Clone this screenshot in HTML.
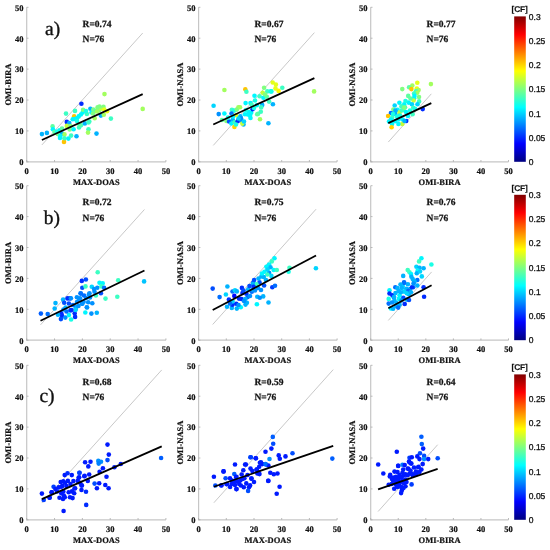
<!DOCTYPE html><html><head><meta charset="utf-8"><style>html,body{margin:0;padding:0;background:#fff;width:550px;height:550px;overflow:hidden}svg{display:block;will-change:transform}text{text-rendering:geometricPrecision}.tk{font:bold 8.5px "Liberation Serif",serif;fill:#111;stroke:#111;stroke-width:.2px}.lb{font:bold 8.5px "Liberation Serif",serif;fill:#111;stroke:#111;stroke-width:.2px}.rn{font:bold 9.5px "Liberation Serif",serif;fill:#111;stroke:#111;stroke-width:.25px}.let{font:19.5px "Liberation Serif",serif;fill:#111;stroke:#111;stroke-width:.35px}.cb{font:8.5px "Liberation Sans",sans-serif;fill:#111;stroke:#111;stroke-width:.3px}.cf{font:bold 8.4px "Liberation Sans",sans-serif;fill:#111;stroke:#111;stroke-width:.15px}</style></head><body>
<svg width="550" height="550" viewBox="0 0 550 550">
<defs><linearGradient id="jet" x1="0" y1="1" x2="0" y2="0">
<stop offset="0.000" stop-color="#000080"/>
<stop offset="0.125" stop-color="#0000ff"/>
<stop offset="0.375" stop-color="#00ffff"/>
<stop offset="0.625" stop-color="#ffff00"/>
<stop offset="0.875" stop-color="#ff0000"/>
<stop offset="1.000" stop-color="#800000"/>
</linearGradient></defs>
<path d="M26.70 7.30 V161.80 H165.90" fill="none" stroke="#c6c6c6" stroke-width="1.2"/>
<path d="M26.70 161.80 h1.8 M26.70 161.80 v-1.8 M26.70 130.90 h1.8 M54.54 161.80 v-1.8 M26.70 100.00 h1.8 M82.38 161.80 v-1.8 M26.70 69.10 h1.8 M110.22 161.80 v-1.8 M26.70 38.20 h1.8 M138.06 161.80 v-1.8 M26.70 7.30 h1.8 M165.90 161.80 v-1.8" stroke="#aaa" stroke-width="0.8"/>
<text class="tk" x="23.50" y="165.10" text-anchor="end">0</text>
<text class="tk" x="26.70" y="174.00" text-anchor="middle">0</text>
<text class="tk" x="23.50" y="134.20" text-anchor="end">10</text>
<text class="tk" x="54.54" y="174.00" text-anchor="middle">10</text>
<text class="tk" x="23.50" y="103.30" text-anchor="end">20</text>
<text class="tk" x="82.38" y="174.00" text-anchor="middle">20</text>
<text class="tk" x="23.50" y="72.40" text-anchor="end">30</text>
<text class="tk" x="110.22" y="174.00" text-anchor="middle">30</text>
<text class="tk" x="23.50" y="41.50" text-anchor="end">40</text>
<text class="tk" x="138.06" y="174.00" text-anchor="middle">40</text>
<text class="tk" x="23.50" y="10.60" text-anchor="end">50</text>
<text class="tk" x="165.90" y="174.00" text-anchor="middle">50</text>
<text class="lb" x="96.30" y="184.70" text-anchor="middle">MAX-DOAS</text>
<text class="lb" transform="translate(10.90 84.55) rotate(-90)" text-anchor="middle">OMI-BIRA</text>
<text class="rn" x="82.60" y="26.70">R=0.74</text>
<text class="rn" x="82.60" y="42.30">N=76</text>
<line x1="41.90" y1="144.93" x2="142.71" y2="33.04" stroke="#c2c2c2" stroke-width="0.9"/>
<circle cx="41.9" cy="134.1" r="2.3" fill="#00b3ff"/>
<circle cx="46.9" cy="132.9" r="2.3" fill="#00b3ff"/>
<circle cx="52.6" cy="126.4" r="2.3" fill="#5effa1"/>
<circle cx="52.9" cy="129.3" r="2.3" fill="#00f7ff"/>
<circle cx="54.5" cy="132.1" r="2.3" fill="#5effa1"/>
<circle cx="57.8" cy="134.1" r="2.3" fill="#80ff80"/>
<circle cx="59.6" cy="130.4" r="2.3" fill="#00f7ff"/>
<circle cx="60.0" cy="138.0" r="2.3" fill="#00f7ff"/>
<circle cx="62.2" cy="133.5" r="2.3" fill="#00b3ff"/>
<circle cx="64.0" cy="141.9" r="2.3" fill="#ffc300"/>
<circle cx="64.5" cy="134.4" r="2.3" fill="#a2ff5e"/>
<circle cx="64.4" cy="138.3" r="2.3" fill="#3cffc3"/>
<circle cx="60.3" cy="136.0" r="2.3" fill="#00f7ff"/>
<circle cx="66.0" cy="113.6" r="2.3" fill="#3cffc3"/>
<circle cx="66.8" cy="121.9" r="2.3" fill="#002bff"/>
<circle cx="69.3" cy="123.1" r="2.3" fill="#00b3ff"/>
<circle cx="66.8" cy="125.9" r="2.3" fill="#c4ff3b"/>
<circle cx="69.7" cy="129.4" r="2.3" fill="#80ff80"/>
<circle cx="68.4" cy="138.6" r="2.3" fill="#00f7ff"/>
<circle cx="71.1" cy="135.6" r="2.3" fill="#3cffc3"/>
<circle cx="73.6" cy="129.2" r="2.3" fill="#00f7ff"/>
<circle cx="74.1" cy="116.4" r="2.3" fill="#ffc300"/>
<circle cx="75.0" cy="110.9" r="2.3" fill="#3cffc3"/>
<circle cx="76.5" cy="136.2" r="2.3" fill="#00b3ff"/>
<circle cx="72.7" cy="119.3" r="2.3" fill="#00f7ff"/>
<circle cx="75.0" cy="119.0" r="2.3" fill="#00f7ff"/>
<circle cx="76.9" cy="118.3" r="2.3" fill="#00f7ff"/>
<circle cx="78.7" cy="116.4" r="2.3" fill="#00f7ff"/>
<circle cx="80.9" cy="114.5" r="2.3" fill="#00f7ff"/>
<circle cx="82.7" cy="112.4" r="2.3" fill="#00f7ff"/>
<circle cx="81.4" cy="103.7" r="2.3" fill="#002bff"/>
<circle cx="83.1" cy="109.8" r="2.3" fill="#80ff80"/>
<circle cx="79.1" cy="127.4" r="2.3" fill="#3cffc3"/>
<circle cx="81.0" cy="125.2" r="2.3" fill="#3cffc3"/>
<circle cx="84.9" cy="123.4" r="2.3" fill="#00b3ff"/>
<circle cx="79.6" cy="124.5" r="2.3" fill="#5effa1"/>
<circle cx="86.9" cy="114.0" r="2.3" fill="#3cffc3"/>
<circle cx="90.4" cy="108.7" r="2.3" fill="#00b3ff"/>
<circle cx="91.5" cy="112.5" r="2.3" fill="#00f7ff"/>
<circle cx="93.3" cy="109.5" r="2.3" fill="#80ff80"/>
<circle cx="95.5" cy="110.9" r="2.3" fill="#5effa1"/>
<circle cx="97.6" cy="107.3" r="2.3" fill="#80ff80"/>
<circle cx="99.1" cy="110.2" r="2.3" fill="#80ff80"/>
<circle cx="101.3" cy="108.4" r="2.3" fill="#c4ff3b"/>
<circle cx="103.5" cy="106.9" r="2.3" fill="#80ff80"/>
<circle cx="104.2" cy="109.5" r="2.3" fill="#e5ff1a"/>
<circle cx="107.1" cy="111.3" r="2.3" fill="#e5ff1a"/>
<circle cx="100.9" cy="115.6" r="2.3" fill="#00b3ff"/>
<circle cx="103.8" cy="114.8" r="2.3" fill="#a2ff5e"/>
<circle cx="94.7" cy="118.2" r="2.3" fill="#a2ff5e"/>
<circle cx="89.3" cy="121.5" r="2.3" fill="#3cffc3"/>
<circle cx="88.5" cy="129.2" r="2.3" fill="#3cffc3"/>
<circle cx="88.0" cy="132.6" r="2.3" fill="#a2ff5e"/>
<circle cx="96.5" cy="133.6" r="2.3" fill="#00b3ff"/>
<circle cx="110.9" cy="118.6" r="2.3" fill="#3cffc3"/>
<circle cx="104.5" cy="94.1" r="2.3" fill="#a2ff5e"/>
<circle cx="142.7" cy="108.9" r="2.3" fill="#a2ff5e"/>
<circle cx="88.5" cy="122.5" r="2.3" fill="#3cffc3"/>
<circle cx="93.0" cy="113.5" r="2.3" fill="#80ff80"/>
<circle cx="97.0" cy="111.5" r="2.3" fill="#a2ff5e"/>
<circle cx="86.0" cy="111.0" r="2.3" fill="#1affe5"/>
<circle cx="99.5" cy="106.5" r="2.3" fill="#80ff80"/>
<circle cx="57.0" cy="131.5" r="2.3" fill="#1affe5"/>
<circle cx="62.0" cy="128.5" r="2.3" fill="#5effa1"/>
<circle cx="70.5" cy="126.0" r="2.3" fill="#80ff80"/>
<circle cx="77.0" cy="121.0" r="2.3" fill="#1affe5"/>
<line x1="41.90" y1="140.02" x2="142.71" y2="94.13" stroke="#000" stroke-width="1.8"/>
<path d="M198.60 7.30 V161.80 H337.10" fill="none" stroke="#c6c6c6" stroke-width="1.2"/>
<path d="M198.60 161.80 h1.8 M198.60 161.80 v-1.8 M198.60 130.90 h1.8 M226.30 161.80 v-1.8 M198.60 100.00 h1.8 M254.00 161.80 v-1.8 M198.60 69.10 h1.8 M281.70 161.80 v-1.8 M198.60 38.20 h1.8 M309.40 161.80 v-1.8 M198.60 7.30 h1.8 M337.10 161.80 v-1.8" stroke="#aaa" stroke-width="0.8"/>
<text class="tk" x="195.40" y="165.10" text-anchor="end">0</text>
<text class="tk" x="198.60" y="174.00" text-anchor="middle">0</text>
<text class="tk" x="195.40" y="134.20" text-anchor="end">10</text>
<text class="tk" x="226.30" y="174.00" text-anchor="middle">10</text>
<text class="tk" x="195.40" y="103.30" text-anchor="end">20</text>
<text class="tk" x="254.00" y="174.00" text-anchor="middle">20</text>
<text class="tk" x="195.40" y="72.40" text-anchor="end">30</text>
<text class="tk" x="281.70" y="174.00" text-anchor="middle">30</text>
<text class="tk" x="195.40" y="41.50" text-anchor="end">40</text>
<text class="tk" x="309.40" y="174.00" text-anchor="middle">40</text>
<text class="tk" x="195.40" y="10.60" text-anchor="end">50</text>
<text class="tk" x="337.10" y="174.00" text-anchor="middle">50</text>
<text class="lb" x="267.85" y="184.70" text-anchor="middle">MAX-DOAS</text>
<text class="lb" transform="translate(182.80 84.55) rotate(-90)" text-anchor="middle">OMI-NASA</text>
<text class="rn" x="254.50" y="26.70">R=0.67</text>
<text class="rn" x="254.50" y="42.30">N=76</text>
<line x1="213.28" y1="145.42" x2="314.39" y2="32.64" stroke="#c2c2c2" stroke-width="0.9"/>
<circle cx="213.6" cy="105.8" r="2.3" fill="#00d5ff"/>
<circle cx="218.7" cy="114.1" r="2.3" fill="#0091ff"/>
<circle cx="224.4" cy="113.5" r="2.3" fill="#00f7ff"/>
<circle cx="224.4" cy="90.0" r="2.3" fill="#a2ff5e"/>
<circle cx="231.9" cy="109.7" r="2.3" fill="#3cffc3"/>
<circle cx="234.3" cy="110.6" r="2.3" fill="#1affe5"/>
<circle cx="238.4" cy="107.3" r="2.3" fill="#a2ff5e"/>
<circle cx="236.8" cy="109.6" r="2.3" fill="#80ff80"/>
<circle cx="231.5" cy="113.5" r="2.3" fill="#006fff"/>
<circle cx="236.1" cy="115.2" r="2.3" fill="#e5ff1a"/>
<circle cx="240.4" cy="116.4" r="2.3" fill="#00b3ff"/>
<circle cx="226.4" cy="121.0" r="2.3" fill="#80ff80"/>
<circle cx="229.1" cy="121.5" r="2.3" fill="#004dff"/>
<circle cx="232.7" cy="119.8" r="2.3" fill="#00b3ff"/>
<circle cx="231.3" cy="123.5" r="2.3" fill="#00f7ff"/>
<circle cx="234.6" cy="122.3" r="2.3" fill="#3cffc3"/>
<circle cx="237.7" cy="121.2" r="2.3" fill="#002bff"/>
<circle cx="241.4" cy="120.6" r="2.3" fill="#0091ff"/>
<circle cx="243.5" cy="124.5" r="2.3" fill="#00b3ff"/>
<circle cx="242.3" cy="123.6" r="2.3" fill="#c4ff3b"/>
<circle cx="234.4" cy="126.9" r="2.3" fill="#ffd400"/>
<circle cx="244.9" cy="114.3" r="2.3" fill="#00f7ff"/>
<circle cx="247.8" cy="114.4" r="2.3" fill="#00f7ff"/>
<circle cx="250.0" cy="115.4" r="2.3" fill="#00f7ff"/>
<circle cx="251.2" cy="112.7" r="2.3" fill="#00f7ff"/>
<circle cx="252.6" cy="109.2" r="2.3" fill="#002bff"/>
<circle cx="245.3" cy="89.2" r="2.3" fill="#ffc300"/>
<circle cx="246.4" cy="91.8" r="2.3" fill="#3cffc3"/>
<circle cx="254.5" cy="95.8" r="2.3" fill="#00f7ff"/>
<circle cx="245.6" cy="103.1" r="2.3" fill="#00f7ff"/>
<circle cx="250.5" cy="103.0" r="2.3" fill="#00f7ff"/>
<circle cx="251.7" cy="104.8" r="2.3" fill="#3cffc3"/>
<circle cx="240.0" cy="107.3" r="2.3" fill="#a2ff5e"/>
<circle cx="241.0" cy="118.2" r="2.3" fill="#0091ff"/>
<circle cx="256.8" cy="105.3" r="2.3" fill="#00f7ff"/>
<circle cx="262.2" cy="104.9" r="2.3" fill="#00b3ff"/>
<circle cx="261.2" cy="107.4" r="2.3" fill="#3cffc3"/>
<circle cx="260.8" cy="111.7" r="2.3" fill="#3cffc3"/>
<circle cx="258.1" cy="113.8" r="2.3" fill="#3cffc3"/>
<circle cx="260.0" cy="119.2" r="2.3" fill="#a2ff5e"/>
<circle cx="268.4" cy="123.3" r="2.3" fill="#00b3ff"/>
<circle cx="264.1" cy="87.7" r="2.3" fill="#80ff80"/>
<circle cx="262.7" cy="92.7" r="2.3" fill="#c4ff3b"/>
<circle cx="259.6" cy="96.3" r="2.3" fill="#3cffc3"/>
<circle cx="263.4" cy="97.8" r="2.3" fill="#00f7ff"/>
<circle cx="266.8" cy="96.8" r="2.3" fill="#5effa1"/>
<circle cx="267.3" cy="91.4" r="2.3" fill="#3cffc3"/>
<circle cx="270.9" cy="91.4" r="2.3" fill="#00f7ff"/>
<circle cx="269.1" cy="101.6" r="2.3" fill="#3cffc3"/>
<circle cx="272.9" cy="104.3" r="2.3" fill="#00b3ff"/>
<circle cx="272.7" cy="82.5" r="2.3" fill="#e5ff1a"/>
<circle cx="275.9" cy="84.5" r="2.3" fill="#e5ff1a"/>
<circle cx="275.5" cy="88.4" r="2.3" fill="#e5ff1a"/>
<circle cx="278.6" cy="90.9" r="2.3" fill="#fff600"/>
<circle cx="282.3" cy="87.7" r="2.3" fill="#3cffc3"/>
<circle cx="271.4" cy="91.4" r="2.3" fill="#1affe5"/>
<circle cx="314.1" cy="91.4" r="2.3" fill="#a2ff5e"/>
<circle cx="257.2" cy="114.2" r="2.3" fill="#5effa1"/>
<circle cx="249.0" cy="112.0" r="2.3" fill="#00f7ff"/>
<circle cx="228.0" cy="117.5" r="2.3" fill="#1affe5"/>
<circle cx="233.0" cy="116.5" r="2.3" fill="#00f7ff"/>
<circle cx="238.5" cy="118.5" r="2.3" fill="#00d5ff"/>
<circle cx="246.0" cy="110.0" r="2.3" fill="#1affe5"/>
<circle cx="255.0" cy="100.5" r="2.3" fill="#1affe5"/>
<circle cx="265.0" cy="94.5" r="2.3" fill="#80ff80"/>
<circle cx="244.0" cy="121.5" r="2.3" fill="#00d5ff"/>
<circle cx="236.0" cy="124.5" r="2.3" fill="#1affe5"/>
<circle cx="222.0" cy="120.0" r="2.3" fill="#5effa1"/>
<circle cx="254.0" cy="108.0" r="2.3" fill="#1affe5"/>
<circle cx="250.5" cy="118.0" r="2.3" fill="#00f7ff"/>
<line x1="213.28" y1="124.50" x2="314.39" y2="78.06" stroke="#000" stroke-width="1.8"/>
<path d="M370.70 7.30 V161.80 H508.50" fill="none" stroke="#c6c6c6" stroke-width="1.2"/>
<path d="M370.70 161.80 h1.8 M370.70 161.80 v-1.8 M370.70 130.90 h1.8 M398.26 161.80 v-1.8 M370.70 100.00 h1.8 M425.82 161.80 v-1.8 M370.70 69.10 h1.8 M453.38 161.80 v-1.8 M370.70 38.20 h1.8 M480.94 161.80 v-1.8 M370.70 7.30 h1.8 M508.50 161.80 v-1.8" stroke="#aaa" stroke-width="0.8"/>
<text class="tk" x="367.50" y="165.10" text-anchor="end">0</text>
<text class="tk" x="370.70" y="174.00" text-anchor="middle">0</text>
<text class="tk" x="367.50" y="134.20" text-anchor="end">10</text>
<text class="tk" x="398.26" y="174.00" text-anchor="middle">10</text>
<text class="tk" x="367.50" y="103.30" text-anchor="end">20</text>
<text class="tk" x="425.82" y="174.00" text-anchor="middle">20</text>
<text class="tk" x="367.50" y="72.40" text-anchor="end">30</text>
<text class="tk" x="453.38" y="174.00" text-anchor="middle">30</text>
<text class="tk" x="367.50" y="41.50" text-anchor="end">40</text>
<text class="tk" x="480.94" y="174.00" text-anchor="middle">40</text>
<text class="tk" x="367.50" y="10.60" text-anchor="end">50</text>
<text class="tk" x="508.50" y="174.00" text-anchor="middle">50</text>
<text class="lb" x="439.60" y="184.70" text-anchor="middle">OMI-BIRA</text>
<text class="lb" transform="translate(354.90 84.55) rotate(-90)" text-anchor="middle">OMI-NASA</text>
<text class="rn" x="426.60" y="26.70">R=0.77</text>
<text class="rn" x="426.60" y="42.30">N=76</text>
<line x1="388.31" y1="142.05" x2="431.33" y2="93.82" stroke="#c2c2c2" stroke-width="0.9"/>
<circle cx="417.3" cy="82.7" r="2.3" fill="#e5ff1a"/>
<circle cx="430.9" cy="84.1" r="2.3" fill="#a2ff5e"/>
<circle cx="412.3" cy="85.5" r="2.3" fill="#a2ff5e"/>
<circle cx="409.1" cy="87.3" r="2.3" fill="#5effa1"/>
<circle cx="411.4" cy="89.1" r="2.3" fill="#ffc300"/>
<circle cx="402.3" cy="89.1" r="2.3" fill="#80ff80"/>
<circle cx="416.8" cy="88.6" r="2.3" fill="#e5ff1a"/>
<circle cx="418.6" cy="90.0" r="2.3" fill="#a2ff5e"/>
<circle cx="415.9" cy="91.4" r="2.3" fill="#3cffc3"/>
<circle cx="417.3" cy="92.7" r="2.3" fill="#a2ff5e"/>
<circle cx="414.1" cy="93.6" r="2.3" fill="#3cffc3"/>
<circle cx="408.2" cy="95.9" r="2.3" fill="#5effa1"/>
<circle cx="414.5" cy="95.9" r="2.3" fill="#00f7ff"/>
<circle cx="414.1" cy="98.2" r="2.3" fill="#00f7ff"/>
<circle cx="413.6" cy="100.5" r="2.3" fill="#c4ff3b"/>
<circle cx="419.1" cy="101.4" r="2.3" fill="#3cffc3"/>
<circle cx="417.5" cy="104.2" r="2.3" fill="#00d5ff"/>
<circle cx="408.7" cy="102.6" r="2.3" fill="#00f7ff"/>
<circle cx="411.9" cy="104.3" r="2.3" fill="#00d5ff"/>
<circle cx="399.4" cy="102.8" r="2.3" fill="#00f7ff"/>
<circle cx="404.2" cy="104.4" r="2.3" fill="#00f7ff"/>
<circle cx="394.7" cy="105.5" r="2.3" fill="#00d5ff"/>
<circle cx="401.4" cy="106.4" r="2.3" fill="#3cffc3"/>
<circle cx="405.0" cy="107.3" r="2.3" fill="#3cffc3"/>
<circle cx="413.2" cy="107.7" r="2.3" fill="#3cffc3"/>
<circle cx="422.7" cy="109.1" r="2.3" fill="#002bff"/>
<circle cx="393.4" cy="109.6" r="2.3" fill="#80ff80"/>
<circle cx="397.6" cy="109.8" r="2.3" fill="#00f7ff"/>
<circle cx="403.5" cy="110.0" r="2.3" fill="#80ff80"/>
<circle cx="390.9" cy="113.0" r="2.3" fill="#006fff"/>
<circle cx="395.4" cy="113.9" r="2.3" fill="#00b3ff"/>
<circle cx="399.6" cy="112.4" r="2.3" fill="#c4ff3b"/>
<circle cx="401.9" cy="110.5" r="2.3" fill="#3cffc3"/>
<circle cx="388.1" cy="116.0" r="2.3" fill="#ffc300"/>
<circle cx="392.2" cy="117.4" r="2.3" fill="#3cffc3"/>
<circle cx="407.9" cy="115.9" r="2.3" fill="#00f7ff"/>
<circle cx="412.6" cy="114.2" r="2.3" fill="#3cffc3"/>
<circle cx="402.6" cy="119.5" r="2.3" fill="#00f7ff"/>
<circle cx="406.2" cy="121.0" r="2.3" fill="#002bff"/>
<circle cx="402.3" cy="123.9" r="2.3" fill="#c4ff3b"/>
<circle cx="398.4" cy="124.0" r="2.3" fill="#00f7ff"/>
<circle cx="392.1" cy="123.9" r="2.3" fill="#00f7ff"/>
<circle cx="391.6" cy="127.3" r="2.3" fill="#ffd400"/>
<circle cx="395.3" cy="121.2" r="2.3" fill="#00f7ff"/>
<circle cx="390.9" cy="119.6" r="2.3" fill="#00f7ff"/>
<circle cx="395.4" cy="110.5" r="2.3" fill="#00b3ff"/>
<circle cx="404.2" cy="107.5" r="2.3" fill="#80ff80"/>
<circle cx="415.0" cy="108.7" r="2.3" fill="#1affe5"/>
<circle cx="404.5" cy="121.0" r="2.3" fill="#00b3ff"/>
<circle cx="410.0" cy="110.5" r="2.3" fill="#1affe5"/>
<circle cx="397.0" cy="116.5" r="2.3" fill="#1affe5"/>
<circle cx="393.0" cy="114.0" r="2.3" fill="#1affe5"/>
<circle cx="400.0" cy="115.5" r="2.3" fill="#1affe5"/>
<circle cx="406.0" cy="112.0" r="2.3" fill="#00f7ff"/>
<circle cx="410.5" cy="98.5" r="2.3" fill="#5effa1"/>
<circle cx="419.0" cy="97.0" r="2.3" fill="#80ff80"/>
<circle cx="405.5" cy="101.0" r="2.3" fill="#1affe5"/>
<circle cx="389.0" cy="121.5" r="2.3" fill="#00f7ff"/>
<circle cx="398.5" cy="119.5" r="2.3" fill="#00f7ff"/>
<line x1="388.31" y1="123.18" x2="431.33" y2="103.09" stroke="#000" stroke-width="1.8"/>
<text class="let" x="45.00" y="34.70">a)</text>
<rect x="514.2" y="16.40" width="11.6" height="145.4" fill="url(#jet)"/>
<text class="cb" x="528.8" y="165.00">0</text>
<text class="cb" x="528.8" y="140.77">0.05</text>
<text class="cb" x="528.8" y="116.53">0.1</text>
<text class="cb" x="528.8" y="92.30">0.15</text>
<text class="cb" x="528.8" y="68.07">0.2</text>
<text class="cb" x="528.8" y="43.83">0.25</text>
<text class="cb" x="528.8" y="19.60">0.3</text>
<text class="cf" x="519.6" y="12.40" text-anchor="middle" letter-spacing="-0.2">[CF]</text>
<path d="M26.70 185.70 V340.20 H165.90" fill="none" stroke="#c6c6c6" stroke-width="1.2"/>
<path d="M26.70 340.20 h1.8 M26.70 340.20 v-1.8 M26.70 309.30 h1.8 M54.54 340.20 v-1.8 M26.70 278.40 h1.8 M82.38 340.20 v-1.8 M26.70 247.50 h1.8 M110.22 340.20 v-1.8 M26.70 216.60 h1.8 M138.06 340.20 v-1.8 M26.70 185.70 h1.8 M165.90 340.20 v-1.8" stroke="#aaa" stroke-width="0.8"/>
<text class="tk" x="23.50" y="343.50" text-anchor="end">0</text>
<text class="tk" x="26.70" y="352.40" text-anchor="middle">0</text>
<text class="tk" x="23.50" y="312.60" text-anchor="end">10</text>
<text class="tk" x="54.54" y="352.40" text-anchor="middle">10</text>
<text class="tk" x="23.50" y="281.70" text-anchor="end">20</text>
<text class="tk" x="82.38" y="352.40" text-anchor="middle">20</text>
<text class="tk" x="23.50" y="250.80" text-anchor="end">30</text>
<text class="tk" x="110.22" y="352.40" text-anchor="middle">30</text>
<text class="tk" x="23.50" y="219.90" text-anchor="end">40</text>
<text class="tk" x="138.06" y="352.40" text-anchor="middle">40</text>
<text class="tk" x="23.50" y="189.00" text-anchor="end">50</text>
<text class="tk" x="165.90" y="352.40" text-anchor="middle">50</text>
<text class="lb" x="96.30" y="363.10" text-anchor="middle">MAX-DOAS</text>
<text class="lb" transform="translate(10.90 262.95) rotate(-90)" text-anchor="middle">OMI-BIRA</text>
<text class="rn" x="82.60" y="205.10">R=0.72</text>
<text class="rn" x="82.60" y="220.70">N=76</text>
<line x1="40.51" y1="324.87" x2="144.46" y2="209.49" stroke="#c2c2c2" stroke-width="0.9"/>
<circle cx="40.9" cy="313.6" r="2.3" fill="#005eff"/>
<circle cx="47.7" cy="314.1" r="2.3" fill="#006fff"/>
<circle cx="55.5" cy="303.1" r="2.3" fill="#00b3ff"/>
<circle cx="54.7" cy="308.5" r="2.3" fill="#00b3ff"/>
<circle cx="63.1" cy="299.5" r="2.3" fill="#00b3ff"/>
<circle cx="64.2" cy="302.7" r="2.3" fill="#004dff"/>
<circle cx="67.5" cy="298.4" r="2.3" fill="#002bff"/>
<circle cx="70.0" cy="298.4" r="2.3" fill="#002bff"/>
<circle cx="68.9" cy="303.5" r="2.3" fill="#004dff"/>
<circle cx="65.6" cy="307.5" r="2.3" fill="#00b3ff"/>
<circle cx="70.4" cy="310.4" r="2.3" fill="#004dff"/>
<circle cx="75.5" cy="306.7" r="2.3" fill="#00b3ff"/>
<circle cx="76.9" cy="297.3" r="2.3" fill="#0091ff"/>
<circle cx="80.5" cy="293.3" r="2.3" fill="#0091ff"/>
<circle cx="75.8" cy="308.9" r="2.3" fill="#00b3ff"/>
<circle cx="74.7" cy="313.3" r="2.3" fill="#002bff"/>
<circle cx="75.1" cy="316.9" r="2.3" fill="#002bff"/>
<circle cx="61.3" cy="313.3" r="2.3" fill="#002bff"/>
<circle cx="62.0" cy="315.8" r="2.3" fill="#002bff"/>
<circle cx="58.0" cy="314.7" r="2.3" fill="#00b3ff"/>
<circle cx="60.9" cy="319.1" r="2.3" fill="#004dff"/>
<circle cx="65.3" cy="317.6" r="2.3" fill="#0091ff"/>
<circle cx="68.9" cy="315.1" r="2.3" fill="#00f7ff"/>
<circle cx="71.1" cy="319.5" r="2.3" fill="#1affe5"/>
<circle cx="85.3" cy="312.5" r="2.3" fill="#00f7ff"/>
<circle cx="82.4" cy="303.8" r="2.3" fill="#0091ff"/>
<circle cx="87.1" cy="307.5" r="2.3" fill="#00b3ff"/>
<circle cx="88.9" cy="294.4" r="2.3" fill="#0091ff"/>
<circle cx="79.1" cy="298.7" r="2.3" fill="#0091ff"/>
<circle cx="81.8" cy="280.9" r="2.3" fill="#002bff"/>
<circle cx="85.9" cy="279.5" r="2.3" fill="#004dff"/>
<circle cx="82.3" cy="287.7" r="2.3" fill="#004dff"/>
<circle cx="85.5" cy="286.4" r="2.3" fill="#3cffc3"/>
<circle cx="80.9" cy="293.6" r="2.3" fill="#006fff"/>
<circle cx="70.9" cy="298.2" r="2.3" fill="#0091ff"/>
<circle cx="80.0" cy="298.2" r="2.3" fill="#0091ff"/>
<circle cx="83.6" cy="301.8" r="2.3" fill="#0091ff"/>
<circle cx="81.8" cy="303.6" r="2.3" fill="#0091ff"/>
<circle cx="88.2" cy="302.3" r="2.3" fill="#0091ff"/>
<circle cx="92.3" cy="303.2" r="2.3" fill="#0091ff"/>
<circle cx="86.8" cy="307.3" r="2.3" fill="#0091ff"/>
<circle cx="75.5" cy="310.0" r="2.3" fill="#00d5ff"/>
<circle cx="71.4" cy="310.0" r="2.3" fill="#002bff"/>
<circle cx="91.4" cy="313.6" r="2.3" fill="#0091ff"/>
<circle cx="96.8" cy="312.7" r="2.3" fill="#00b3ff"/>
<circle cx="89.5" cy="293.2" r="2.3" fill="#0091ff"/>
<circle cx="91.8" cy="286.8" r="2.3" fill="#00d5ff"/>
<circle cx="94.1" cy="289.1" r="2.3" fill="#0091ff"/>
<circle cx="97.3" cy="287.7" r="2.3" fill="#0091ff"/>
<circle cx="99.5" cy="282.7" r="2.3" fill="#00f7ff"/>
<circle cx="102.7" cy="283.2" r="2.3" fill="#00f7ff"/>
<circle cx="101.4" cy="286.4" r="2.3" fill="#3cffc3"/>
<circle cx="104.1" cy="287.7" r="2.3" fill="#006fff"/>
<circle cx="100.9" cy="293.2" r="2.3" fill="#004dff"/>
<circle cx="95.9" cy="295.5" r="2.3" fill="#3cffc3"/>
<circle cx="94.5" cy="291.8" r="2.3" fill="#0091ff"/>
<circle cx="97.7" cy="272.3" r="2.3" fill="#3cffc3"/>
<circle cx="105.5" cy="298.6" r="2.3" fill="#3cffc3"/>
<circle cx="117.3" cy="296.8" r="2.3" fill="#3cffc3"/>
<circle cx="118.2" cy="280.3" r="2.3" fill="#3cffc3"/>
<circle cx="144.1" cy="281.4" r="2.3" fill="#00c4ff"/>
<circle cx="77.0" cy="302.0" r="2.3" fill="#0091ff"/>
<circle cx="73.0" cy="305.0" r="2.3" fill="#006fff"/>
<circle cx="66.5" cy="311.5" r="2.3" fill="#006fff"/>
<circle cx="86.0" cy="298.0" r="2.3" fill="#0091ff"/>
<circle cx="90.0" cy="297.5" r="2.3" fill="#0091ff"/>
<circle cx="78.5" cy="306.0" r="2.3" fill="#0091ff"/>
<circle cx="63.5" cy="309.5" r="2.3" fill="#0091ff"/>
<circle cx="84.0" cy="295.5" r="2.3" fill="#006fff"/>
<line x1="40.51" y1="320.79" x2="144.46" y2="270.49" stroke="#000" stroke-width="1.8"/>
<path d="M198.60 185.70 V340.20 H337.10" fill="none" stroke="#c6c6c6" stroke-width="1.2"/>
<path d="M198.60 340.20 h1.8 M198.60 340.20 v-1.8 M198.60 309.30 h1.8 M226.30 340.20 v-1.8 M198.60 278.40 h1.8 M254.00 340.20 v-1.8 M198.60 247.50 h1.8 M281.70 340.20 v-1.8 M198.60 216.60 h1.8 M309.40 340.20 v-1.8 M198.60 185.70 h1.8 M337.10 340.20 v-1.8" stroke="#aaa" stroke-width="0.8"/>
<text class="tk" x="195.40" y="343.50" text-anchor="end">0</text>
<text class="tk" x="198.60" y="352.40" text-anchor="middle">0</text>
<text class="tk" x="195.40" y="312.60" text-anchor="end">10</text>
<text class="tk" x="226.30" y="352.40" text-anchor="middle">10</text>
<text class="tk" x="195.40" y="281.70" text-anchor="end">20</text>
<text class="tk" x="254.00" y="352.40" text-anchor="middle">20</text>
<text class="tk" x="195.40" y="250.80" text-anchor="end">30</text>
<text class="tk" x="281.70" y="352.40" text-anchor="middle">30</text>
<text class="tk" x="195.40" y="219.90" text-anchor="end">40</text>
<text class="tk" x="309.40" y="352.40" text-anchor="middle">40</text>
<text class="tk" x="195.40" y="189.00" text-anchor="end">50</text>
<text class="tk" x="337.10" y="352.40" text-anchor="middle">50</text>
<text class="lb" x="267.85" y="363.10" text-anchor="middle">MAX-DOAS</text>
<text class="lb" transform="translate(182.80 262.95) rotate(-90)" text-anchor="middle">OMI-NASA</text>
<text class="rn" x="254.50" y="205.10">R=0.75</text>
<text class="rn" x="254.50" y="220.70">N=76</text>
<line x1="212.70" y1="324.47" x2="316.05" y2="209.18" stroke="#c2c2c2" stroke-width="0.9"/>
<circle cx="212.7" cy="288.6" r="2.3" fill="#004dff"/>
<circle cx="219.6" cy="297.1" r="2.3" fill="#006fff"/>
<circle cx="227.4" cy="286.5" r="2.3" fill="#00b3ff"/>
<circle cx="225.9" cy="294.5" r="2.3" fill="#00d5ff"/>
<circle cx="228.9" cy="299.5" r="2.3" fill="#002bff"/>
<circle cx="227.0" cy="306.8" r="2.3" fill="#00b3ff"/>
<circle cx="231.8" cy="307.9" r="2.3" fill="#00b3ff"/>
<circle cx="232.4" cy="304.8" r="2.3" fill="#002bff"/>
<circle cx="236.2" cy="303.7" r="2.3" fill="#002bff"/>
<circle cx="236.8" cy="308.6" r="2.3" fill="#00b3ff"/>
<circle cx="240.8" cy="307.2" r="2.3" fill="#00f7ff"/>
<circle cx="234.3" cy="295.9" r="2.3" fill="#0008ff"/>
<circle cx="232.5" cy="291.5" r="2.3" fill="#006fff"/>
<circle cx="235.0" cy="290.3" r="2.3" fill="#00d5ff"/>
<circle cx="236.8" cy="291.4" r="2.3" fill="#00b3ff"/>
<circle cx="239.0" cy="298.6" r="2.3" fill="#002bff"/>
<circle cx="241.5" cy="299.0" r="2.3" fill="#002bff"/>
<circle cx="242.5" cy="293.0" r="2.3" fill="#002bff"/>
<circle cx="241.9" cy="287.9" r="2.3" fill="#002bff"/>
<circle cx="246.4" cy="293.7" r="2.3" fill="#002bff"/>
<circle cx="247.6" cy="297.1" r="2.3" fill="#006fff"/>
<circle cx="245.3" cy="299.0" r="2.3" fill="#00b3ff"/>
<circle cx="246.9" cy="302.8" r="2.3" fill="#00b3ff"/>
<circle cx="245.5" cy="304.6" r="2.3" fill="#00b3ff"/>
<circle cx="248.2" cy="289.2" r="2.3" fill="#00b3ff"/>
<circle cx="251.8" cy="291.8" r="2.3" fill="#006fff"/>
<circle cx="252.5" cy="289.5" r="2.3" fill="#00b3ff"/>
<circle cx="253.2" cy="282.7" r="2.3" fill="#004dff"/>
<circle cx="232.5" cy="301.4" r="2.3" fill="#00d5ff"/>
<circle cx="274.5" cy="258.2" r="2.3" fill="#00f7ff"/>
<circle cx="271.8" cy="261.4" r="2.3" fill="#3cffc3"/>
<circle cx="269.1" cy="264.5" r="2.3" fill="#00f7ff"/>
<circle cx="266.4" cy="266.8" r="2.3" fill="#00f7ff"/>
<circle cx="270.5" cy="267.3" r="2.3" fill="#00b3ff"/>
<circle cx="273.6" cy="270.0" r="2.3" fill="#00f7ff"/>
<circle cx="276.8" cy="270.0" r="2.3" fill="#3cffc3"/>
<circle cx="264.5" cy="271.8" r="2.3" fill="#00f7ff"/>
<circle cx="269.1" cy="272.7" r="2.3" fill="#0091ff"/>
<circle cx="271.4" cy="275.9" r="2.3" fill="#00d5ff"/>
<circle cx="267.3" cy="274.5" r="2.3" fill="#3cffc3"/>
<circle cx="261.4" cy="276.4" r="2.3" fill="#00b3ff"/>
<circle cx="263.8" cy="277.0" r="2.3" fill="#00b3ff"/>
<circle cx="265.9" cy="280.0" r="2.3" fill="#00b3ff"/>
<circle cx="254.1" cy="280.0" r="2.3" fill="#004dff"/>
<circle cx="259.5" cy="282.3" r="2.3" fill="#004dff"/>
<circle cx="256.4" cy="284.1" r="2.3" fill="#3cffc3"/>
<circle cx="252.7" cy="284.1" r="2.3" fill="#00b3ff"/>
<circle cx="253.6" cy="286.8" r="2.3" fill="#002bff"/>
<circle cx="264.1" cy="285.5" r="2.3" fill="#004dff"/>
<circle cx="272.3" cy="287.3" r="2.3" fill="#003cff"/>
<circle cx="275.0" cy="285.7" r="2.3" fill="#006fff"/>
<circle cx="255.0" cy="290.5" r="2.3" fill="#0091ff"/>
<circle cx="257.3" cy="296.8" r="2.3" fill="#00b3ff"/>
<circle cx="263.2" cy="296.4" r="2.3" fill="#00b3ff"/>
<circle cx="289.5" cy="267.7" r="2.3" fill="#3cffc3"/>
<circle cx="288.6" cy="271.8" r="2.3" fill="#1affe5"/>
<circle cx="315.9" cy="268.2" r="2.3" fill="#00d5ff"/>
<circle cx="250.0" cy="296.0" r="2.3" fill="#0091ff"/>
<circle cx="238.5" cy="305.0" r="2.3" fill="#0091ff"/>
<circle cx="244.0" cy="301.0" r="2.3" fill="#0091ff"/>
<circle cx="258.0" cy="288.0" r="2.3" fill="#0091ff"/>
<circle cx="261.0" cy="290.0" r="2.3" fill="#0091ff"/>
<circle cx="249.5" cy="286.0" r="2.3" fill="#004dff"/>
<circle cx="230.0" cy="303.5" r="2.3" fill="#006fff"/>
<circle cx="243.5" cy="290.5" r="2.3" fill="#004dff"/>
<circle cx="262.0" cy="273.5" r="2.3" fill="#00f7ff"/>
<circle cx="267.5" cy="269.5" r="2.3" fill="#00d5ff"/>
<circle cx="258.5" cy="278.5" r="2.3" fill="#00b3ff"/>
<circle cx="268.5" cy="302.5" r="2.3" fill="#00b3ff"/>
<circle cx="256.9" cy="304.3" r="2.3" fill="#00f7ff"/>
<circle cx="259.8" cy="297.8" r="2.3" fill="#0091ff"/>
<line x1="212.70" y1="310.01" x2="316.05" y2="255.53" stroke="#000" stroke-width="1.8"/>
<path d="M370.70 185.70 V340.20 H508.50" fill="none" stroke="#c6c6c6" stroke-width="1.2"/>
<path d="M370.70 340.20 h1.8 M370.70 340.20 v-1.8 M370.70 309.30 h1.8 M398.26 340.20 v-1.8 M370.70 278.40 h1.8 M425.82 340.20 v-1.8 M370.70 247.50 h1.8 M453.38 340.20 v-1.8 M370.70 216.60 h1.8 M480.94 340.20 v-1.8 M370.70 185.70 h1.8 M508.50 340.20 v-1.8" stroke="#aaa" stroke-width="0.8"/>
<text class="tk" x="367.50" y="343.50" text-anchor="end">0</text>
<text class="tk" x="370.70" y="352.40" text-anchor="middle">0</text>
<text class="tk" x="367.50" y="312.60" text-anchor="end">10</text>
<text class="tk" x="398.26" y="352.40" text-anchor="middle">10</text>
<text class="tk" x="367.50" y="281.70" text-anchor="end">20</text>
<text class="tk" x="425.82" y="352.40" text-anchor="middle">20</text>
<text class="tk" x="367.50" y="250.80" text-anchor="end">30</text>
<text class="tk" x="453.38" y="352.40" text-anchor="middle">30</text>
<text class="tk" x="367.50" y="219.90" text-anchor="end">40</text>
<text class="tk" x="480.94" y="352.40" text-anchor="middle">40</text>
<text class="tk" x="367.50" y="189.00" text-anchor="end">50</text>
<text class="tk" x="508.50" y="352.40" text-anchor="middle">50</text>
<text class="lb" x="439.60" y="363.10" text-anchor="middle">OMI-BIRA</text>
<text class="lb" transform="translate(354.90 262.95) rotate(-90)" text-anchor="middle">OMI-NASA</text>
<text class="rn" x="426.60" y="205.10">R=0.76</text>
<text class="rn" x="426.60" y="220.70">N=76</text>
<line x1="388.31" y1="320.45" x2="431.61" y2="271.91" stroke="#c2c2c2" stroke-width="0.9"/>
<circle cx="421.4" cy="258.2" r="2.3" fill="#00f7ff"/>
<circle cx="419.1" cy="261.4" r="2.3" fill="#3cffc3"/>
<circle cx="431.4" cy="264.5" r="2.3" fill="#1affe5"/>
<circle cx="416.4" cy="266.8" r="2.3" fill="#00d5ff"/>
<circle cx="419.5" cy="267.7" r="2.3" fill="#00b3ff"/>
<circle cx="423.6" cy="268.2" r="2.3" fill="#00b3ff"/>
<circle cx="417.7" cy="270.5" r="2.3" fill="#00f7ff"/>
<circle cx="416.8" cy="273.2" r="2.3" fill="#00b3ff"/>
<circle cx="407.7" cy="270.0" r="2.3" fill="#3cffc3"/>
<circle cx="409.5" cy="272.3" r="2.3" fill="#3cffc3"/>
<circle cx="411.0" cy="274.0" r="2.3" fill="#00f7ff"/>
<circle cx="421.8" cy="276.4" r="2.3" fill="#00d5ff"/>
<circle cx="403.2" cy="275.9" r="2.3" fill="#00b3ff"/>
<circle cx="411.4" cy="276.8" r="2.3" fill="#00b3ff"/>
<circle cx="412.7" cy="279.1" r="2.3" fill="#00b3ff"/>
<circle cx="417.3" cy="280.0" r="2.3" fill="#006fff"/>
<circle cx="414.5" cy="281.4" r="2.3" fill="#00b3ff"/>
<circle cx="417.3" cy="285.5" r="2.3" fill="#00b3ff"/>
<circle cx="404.1" cy="282.3" r="2.3" fill="#006fff"/>
<circle cx="407.9" cy="284.3" r="2.3" fill="#00b3ff"/>
<circle cx="423.6" cy="287.3" r="2.3" fill="#002bff"/>
<circle cx="413.2" cy="287.3" r="2.3" fill="#006fff"/>
<circle cx="410.0" cy="289.1" r="2.3" fill="#00b3ff"/>
<circle cx="406.2" cy="288.7" r="2.3" fill="#00b3ff"/>
<circle cx="402.7" cy="286.4" r="2.3" fill="#00d5ff"/>
<circle cx="395.3" cy="287.3" r="2.3" fill="#006fff"/>
<circle cx="397.5" cy="288.0" r="2.3" fill="#00b3ff"/>
<circle cx="389.5" cy="290.2" r="2.3" fill="#00f7ff"/>
<circle cx="389.5" cy="293.5" r="2.3" fill="#002bff"/>
<circle cx="392.4" cy="295.3" r="2.3" fill="#002bff"/>
<circle cx="388.7" cy="298.9" r="2.3" fill="#1affe5"/>
<circle cx="393.8" cy="297.5" r="2.3" fill="#0091ff"/>
<circle cx="388.7" cy="303.6" r="2.3" fill="#006fff"/>
<circle cx="390.9" cy="308.4" r="2.3" fill="#00f7ff"/>
<circle cx="394.5" cy="300.7" r="2.3" fill="#00b3ff"/>
<circle cx="398.5" cy="290.9" r="2.3" fill="#00b3ff"/>
<circle cx="399.6" cy="295.3" r="2.3" fill="#00f7ff"/>
<circle cx="398.9" cy="298.9" r="2.3" fill="#00f7ff"/>
<circle cx="401.8" cy="288.0" r="2.3" fill="#00b3ff"/>
<circle cx="404.0" cy="282.9" r="2.3" fill="#006fff"/>
<circle cx="404.0" cy="291.6" r="2.3" fill="#00d5ff"/>
<circle cx="408.4" cy="290.9" r="2.3" fill="#006fff"/>
<circle cx="408.7" cy="294.2" r="2.3" fill="#00b3ff"/>
<circle cx="412.0" cy="287.3" r="2.3" fill="#002bff"/>
<circle cx="403.3" cy="297.8" r="2.3" fill="#004dff"/>
<circle cx="406.9" cy="299.6" r="2.3" fill="#00b3ff"/>
<circle cx="409.0" cy="300.0" r="2.3" fill="#004dff"/>
<circle cx="404.7" cy="304.0" r="2.3" fill="#002bff"/>
<circle cx="396.0" cy="306.2" r="2.3" fill="#00b3ff"/>
<circle cx="399.6" cy="304.7" r="2.3" fill="#00b3ff"/>
<circle cx="398.2" cy="307.6" r="2.3" fill="#006fff"/>
<circle cx="393.1" cy="308.7" r="2.3" fill="#00b3ff"/>
<circle cx="414.2" cy="281.5" r="2.3" fill="#00b3ff"/>
<circle cx="424.1" cy="296.8" r="2.3" fill="#002bff"/>
<circle cx="400.9" cy="292.3" r="2.3" fill="#00b3ff"/>
<circle cx="406.8" cy="293.2" r="2.3" fill="#00d5ff"/>
<circle cx="410.9" cy="292.3" r="2.3" fill="#00b3ff"/>
<circle cx="394.1" cy="297.0" r="2.3" fill="#00b3ff"/>
<circle cx="401.5" cy="300.5" r="2.3" fill="#0091ff"/>
<circle cx="396.5" cy="303.0" r="2.3" fill="#00b3ff"/>
<circle cx="392.0" cy="302.5" r="2.3" fill="#0091ff"/>
<circle cx="395.5" cy="293.0" r="2.3" fill="#00b3ff"/>
<circle cx="413.5" cy="283.5" r="2.3" fill="#0091ff"/>
<circle cx="400.5" cy="284.5" r="2.3" fill="#00b3ff"/>
<circle cx="420.0" cy="271.5" r="2.3" fill="#00d5ff"/>
<line x1="388.31" y1="308.19" x2="431.61" y2="285.20" stroke="#000" stroke-width="1.8"/>
<text class="let" x="43.80" y="223.70">b)</text>
<rect x="514.2" y="194.80" width="11.6" height="145.4" fill="url(#jet)"/>
<text class="cb" x="528.8" y="343.40">0</text>
<text class="cb" x="528.8" y="319.17">0.05</text>
<text class="cb" x="528.8" y="294.93">0.1</text>
<text class="cb" x="528.8" y="270.70">0.15</text>
<text class="cb" x="528.8" y="246.47">0.2</text>
<text class="cb" x="528.8" y="222.23">0.25</text>
<text class="cb" x="528.8" y="198.00">0.3</text>
<text class="cf" x="519.6" y="190.80" text-anchor="middle" letter-spacing="-0.2">[CF]</text>
<path d="M26.70 365.30 V519.80 H165.90" fill="none" stroke="#c6c6c6" stroke-width="1.2"/>
<path d="M26.70 519.80 h1.8 M26.70 519.80 v-1.8 M26.70 488.90 h1.8 M54.54 519.80 v-1.8 M26.70 458.00 h1.8 M82.38 519.80 v-1.8 M26.70 427.10 h1.8 M110.22 519.80 v-1.8 M26.70 396.20 h1.8 M138.06 519.80 v-1.8 M26.70 365.30 h1.8 M165.90 519.80 v-1.8" stroke="#aaa" stroke-width="0.8"/>
<text class="tk" x="23.50" y="523.10" text-anchor="end">0</text>
<text class="tk" x="26.70" y="532.00" text-anchor="middle">0</text>
<text class="tk" x="23.50" y="492.20" text-anchor="end">10</text>
<text class="tk" x="54.54" y="532.00" text-anchor="middle">10</text>
<text class="tk" x="23.50" y="461.30" text-anchor="end">20</text>
<text class="tk" x="82.38" y="532.00" text-anchor="middle">20</text>
<text class="tk" x="23.50" y="430.40" text-anchor="end">30</text>
<text class="tk" x="110.22" y="532.00" text-anchor="middle">30</text>
<text class="tk" x="23.50" y="399.50" text-anchor="end">40</text>
<text class="tk" x="138.06" y="532.00" text-anchor="middle">40</text>
<text class="tk" x="23.50" y="368.60" text-anchor="end">50</text>
<text class="tk" x="165.90" y="532.00" text-anchor="middle">50</text>
<text class="lb" x="96.30" y="542.70" text-anchor="middle">MAX-DOAS</text>
<text class="lb" transform="translate(10.90 442.55) rotate(-90)" text-anchor="middle">OMI-BIRA</text>
<text class="rn" x="82.60" y="384.70">R=0.68</text>
<text class="rn" x="82.60" y="400.30">N=76</text>
<line x1="41.79" y1="503.05" x2="161.72" y2="369.93" stroke="#c2c2c2" stroke-width="0.9"/>
<circle cx="41.9" cy="493.6" r="2.3" fill="#001aff"/>
<circle cx="43.7" cy="500.0" r="2.3" fill="#003cff"/>
<circle cx="49.6" cy="497.7" r="2.3" fill="#001aff"/>
<circle cx="51.7" cy="492.3" r="2.3" fill="#001aff"/>
<circle cx="53.6" cy="486.8" r="2.3" fill="#003cff"/>
<circle cx="55.4" cy="489.0" r="2.3" fill="#001aff"/>
<circle cx="58.6" cy="487.4" r="2.3" fill="#001aff"/>
<circle cx="61.2" cy="486.8" r="2.3" fill="#001aff"/>
<circle cx="62.4" cy="485.9" r="2.3" fill="#001aff"/>
<circle cx="60.7" cy="482.0" r="2.3" fill="#001aff"/>
<circle cx="63.3" cy="481.3" r="2.3" fill="#001aff"/>
<circle cx="65.1" cy="482.7" r="2.3" fill="#001aff"/>
<circle cx="67.9" cy="480.9" r="2.3" fill="#001aff"/>
<circle cx="64.7" cy="475.1" r="2.3" fill="#001aff"/>
<circle cx="67.5" cy="473.3" r="2.3" fill="#002bff"/>
<circle cx="71.8" cy="475.1" r="2.3" fill="#001aff"/>
<circle cx="73.4" cy="481.1" r="2.3" fill="#001aff"/>
<circle cx="79.3" cy="472.7" r="2.3" fill="#004dff"/>
<circle cx="78.6" cy="477.8" r="2.3" fill="#001aff"/>
<circle cx="77.8" cy="480.9" r="2.3" fill="#001aff"/>
<circle cx="80.1" cy="482.7" r="2.3" fill="#001aff"/>
<circle cx="81.5" cy="485.4" r="2.3" fill="#001aff"/>
<circle cx="81.5" cy="490.0" r="2.3" fill="#001aff"/>
<circle cx="75.1" cy="488.2" r="2.3" fill="#001aff"/>
<circle cx="74.2" cy="493.2" r="2.3" fill="#001aff"/>
<circle cx="68.7" cy="492.3" r="2.3" fill="#001aff"/>
<circle cx="72.0" cy="491.4" r="2.3" fill="#001aff"/>
<circle cx="63.3" cy="491.5" r="2.3" fill="#001aff"/>
<circle cx="61.3" cy="493.3" r="2.3" fill="#001aff"/>
<circle cx="63.8" cy="495.5" r="2.3" fill="#001aff"/>
<circle cx="59.5" cy="497.7" r="2.3" fill="#001aff"/>
<circle cx="63.0" cy="499.0" r="2.3" fill="#001aff"/>
<circle cx="64.8" cy="497.3" r="2.3" fill="#001aff"/>
<circle cx="70.0" cy="497.3" r="2.3" fill="#001aff"/>
<circle cx="72.6" cy="498.1" r="2.3" fill="#001aff"/>
<circle cx="63.6" cy="511.0" r="2.3" fill="#001aff"/>
<circle cx="84.3" cy="476.3" r="2.3" fill="#001aff"/>
<circle cx="86.0" cy="491.8" r="2.3" fill="#002bff"/>
<circle cx="86.2" cy="504.9" r="2.3" fill="#002bff"/>
<circle cx="49.6" cy="497.6" r="2.3" fill="#001aff"/>
<circle cx="51.6" cy="492.2" r="2.3" fill="#001aff"/>
<circle cx="74.5" cy="488.5" r="2.3" fill="#001aff"/>
<circle cx="107.5" cy="444.6" r="2.3" fill="#001aff"/>
<circle cx="108.8" cy="454.6" r="2.3" fill="#001aff"/>
<circle cx="107.5" cy="460.1" r="2.3" fill="#004dff"/>
<circle cx="98.3" cy="460.9" r="2.3" fill="#0091ff"/>
<circle cx="101.0" cy="461.8" r="2.3" fill="#0091ff"/>
<circle cx="98.7" cy="463.6" r="2.3" fill="#0080ff"/>
<circle cx="85.1" cy="462.3" r="2.3" fill="#001aff"/>
<circle cx="90.5" cy="461.8" r="2.3" fill="#001aff"/>
<circle cx="88.3" cy="466.4" r="2.3" fill="#001aff"/>
<circle cx="102.9" cy="468.2" r="2.3" fill="#001aff"/>
<circle cx="99.6" cy="471.8" r="2.3" fill="#001aff"/>
<circle cx="114.4" cy="467.3" r="2.3" fill="#001aff"/>
<circle cx="120.8" cy="464.0" r="2.3" fill="#001aff"/>
<circle cx="106.5" cy="476.7" r="2.3" fill="#001aff"/>
<circle cx="79.6" cy="472.7" r="2.3" fill="#003cff"/>
<circle cx="84.6" cy="475.9" r="2.3" fill="#001aff"/>
<circle cx="89.2" cy="474.5" r="2.3" fill="#001aff"/>
<circle cx="79.2" cy="477.3" r="2.3" fill="#001aff"/>
<circle cx="87.8" cy="480.9" r="2.3" fill="#001aff"/>
<circle cx="94.6" cy="483.6" r="2.3" fill="#004dff"/>
<circle cx="99.2" cy="483.2" r="2.3" fill="#001aff"/>
<circle cx="105.3" cy="485.0" r="2.3" fill="#001aff"/>
<circle cx="108.6" cy="488.3" r="2.3" fill="#001aff"/>
<circle cx="96.9" cy="488.2" r="2.3" fill="#001aff"/>
<circle cx="81.9" cy="485.5" r="2.3" fill="#001aff"/>
<circle cx="161.1" cy="458.0" r="2.3" fill="#005eff"/>
<circle cx="57.0" cy="491.5" r="2.3" fill="#001aff"/>
<circle cx="66.5" cy="486.0" r="2.3" fill="#001aff"/>
<circle cx="70.5" cy="484.0" r="2.3" fill="#001aff"/>
<line x1="41.79" y1="499.10" x2="161.72" y2="446.41" stroke="#000" stroke-width="1.8"/>
<path d="M198.60 365.30 V519.80 H337.10" fill="none" stroke="#c6c6c6" stroke-width="1.2"/>
<path d="M198.60 519.80 h1.8 M198.60 519.80 v-1.8 M198.60 488.90 h1.8 M226.30 519.80 v-1.8 M198.60 458.00 h1.8 M254.00 519.80 v-1.8 M198.60 427.10 h1.8 M281.70 519.80 v-1.8 M198.60 396.20 h1.8 M309.40 519.80 v-1.8 M198.60 365.30 h1.8 M337.10 519.80 v-1.8" stroke="#aaa" stroke-width="0.8"/>
<text class="tk" x="195.40" y="523.10" text-anchor="end">0</text>
<text class="tk" x="198.60" y="532.00" text-anchor="middle">0</text>
<text class="tk" x="195.40" y="492.20" text-anchor="end">10</text>
<text class="tk" x="226.30" y="532.00" text-anchor="middle">10</text>
<text class="tk" x="195.40" y="461.30" text-anchor="end">20</text>
<text class="tk" x="254.00" y="532.00" text-anchor="middle">20</text>
<text class="tk" x="195.40" y="430.40" text-anchor="end">30</text>
<text class="tk" x="281.70" y="532.00" text-anchor="middle">30</text>
<text class="tk" x="195.40" y="399.50" text-anchor="end">40</text>
<text class="tk" x="309.40" y="532.00" text-anchor="middle">40</text>
<text class="tk" x="195.40" y="368.60" text-anchor="end">50</text>
<text class="tk" x="337.10" y="532.00" text-anchor="middle">50</text>
<text class="lb" x="267.85" y="542.70" text-anchor="middle">MAX-DOAS</text>
<text class="lb" transform="translate(182.80 442.55) rotate(-90)" text-anchor="middle">OMI-NASA</text>
<text class="rn" x="254.50" y="384.70">R=0.59</text>
<text class="rn" x="254.50" y="400.30">N=76</text>
<line x1="213.89" y1="502.74" x2="333.22" y2="369.63" stroke="#c2c2c2" stroke-width="0.9"/>
<circle cx="213.9" cy="476.8" r="2.3" fill="#001aff"/>
<circle cx="215.3" cy="485.5" r="2.3" fill="#004dff"/>
<circle cx="221.3" cy="485.2" r="2.3" fill="#001aff"/>
<circle cx="223.5" cy="471.4" r="2.3" fill="#001aff"/>
<circle cx="225.6" cy="478.2" r="2.3" fill="#004dff"/>
<circle cx="227.0" cy="484.1" r="2.3" fill="#001aff"/>
<circle cx="230.0" cy="478.2" r="2.3" fill="#001aff"/>
<circle cx="231.6" cy="484.0" r="2.3" fill="#001aff"/>
<circle cx="230.1" cy="487.0" r="2.3" fill="#001aff"/>
<circle cx="234.3" cy="474.0" r="2.3" fill="#005eff"/>
<circle cx="235.0" cy="464.5" r="2.3" fill="#001aff"/>
<circle cx="236.0" cy="477.0" r="2.3" fill="#001aff"/>
<circle cx="237.1" cy="481.4" r="2.3" fill="#001aff"/>
<circle cx="235.0" cy="485.0" r="2.3" fill="#001aff"/>
<circle cx="236.5" cy="489.1" r="2.3" fill="#001aff"/>
<circle cx="239.2" cy="484.0" r="2.3" fill="#001aff"/>
<circle cx="240.3" cy="480.5" r="2.3" fill="#001aff"/>
<circle cx="241.7" cy="474.5" r="2.3" fill="#001aff"/>
<circle cx="243.3" cy="470.2" r="2.3" fill="#001aff"/>
<circle cx="245.1" cy="464.5" r="2.3" fill="#001aff"/>
<circle cx="244.4" cy="478.2" r="2.3" fill="#001aff"/>
<circle cx="243.8" cy="487.3" r="2.3" fill="#001aff"/>
<circle cx="246.3" cy="483.4" r="2.3" fill="#001aff"/>
<circle cx="250.3" cy="457.3" r="2.3" fill="#004dff"/>
<circle cx="255.7" cy="458.2" r="2.3" fill="#001aff"/>
<circle cx="250.5" cy="468.6" r="2.3" fill="#001aff"/>
<circle cx="252.4" cy="471.1" r="2.3" fill="#001aff"/>
<circle cx="256.6" cy="469.5" r="2.3" fill="#001aff"/>
<circle cx="251.5" cy="478.6" r="2.3" fill="#001aff"/>
<circle cx="254.0" cy="482.0" r="2.3" fill="#001aff"/>
<circle cx="250.1" cy="485.4" r="2.3" fill="#001aff"/>
<circle cx="249.0" cy="487.3" r="2.3" fill="#001aff"/>
<circle cx="248.1" cy="490.9" r="2.3" fill="#004dff"/>
<circle cx="257.4" cy="473.4" r="2.3" fill="#001aff"/>
<circle cx="272.8" cy="436.9" r="2.3" fill="#005eff"/>
<circle cx="273.2" cy="443.8" r="2.3" fill="#004dff"/>
<circle cx="271.4" cy="448.6" r="2.3" fill="#001aff"/>
<circle cx="265.5" cy="451.8" r="2.3" fill="#001aff"/>
<circle cx="250.9" cy="457.3" r="2.3" fill="#003cff"/>
<circle cx="255.9" cy="458.2" r="2.3" fill="#001aff"/>
<circle cx="269.5" cy="459.0" r="2.3" fill="#0091ff"/>
<circle cx="278.7" cy="455.4" r="2.3" fill="#001aff"/>
<circle cx="279.8" cy="458.7" r="2.3" fill="#001aff"/>
<circle cx="285.5" cy="456.4" r="2.3" fill="#001aff"/>
<circle cx="292.5" cy="453.3" r="2.3" fill="#004dff"/>
<circle cx="245.9" cy="464.5" r="2.3" fill="#001aff"/>
<circle cx="260.9" cy="462.3" r="2.3" fill="#001aff"/>
<circle cx="262.3" cy="464.1" r="2.3" fill="#001aff"/>
<circle cx="265.9" cy="464.5" r="2.3" fill="#004dff"/>
<circle cx="268.4" cy="465.5" r="2.3" fill="#001aff"/>
<circle cx="259.2" cy="466.8" r="2.3" fill="#001aff"/>
<circle cx="256.8" cy="469.6" r="2.3" fill="#001aff"/>
<circle cx="258.6" cy="472.7" r="2.3" fill="#001aff"/>
<circle cx="270.3" cy="472.7" r="2.3" fill="#001aff"/>
<circle cx="273.8" cy="474.2" r="2.3" fill="#001aff"/>
<circle cx="277.5" cy="473.5" r="2.3" fill="#001aff"/>
<circle cx="268.4" cy="480.7" r="2.3" fill="#001aff"/>
<circle cx="279.6" cy="486.8" r="2.3" fill="#001aff"/>
<circle cx="276.7" cy="493.8" r="2.3" fill="#001aff"/>
<circle cx="332.3" cy="458.6" r="2.3" fill="#005eff"/>
<circle cx="223.6" cy="471.4" r="2.3" fill="#001aff"/>
<circle cx="259.9" cy="462.7" r="2.3" fill="#001aff"/>
<circle cx="265.5" cy="464.1" r="2.3" fill="#006fff"/>
<circle cx="236.4" cy="476.8" r="2.3" fill="#001aff"/>
<circle cx="234.5" cy="481.8" r="2.3" fill="#001aff"/>
<circle cx="236.4" cy="489.1" r="2.3" fill="#001aff"/>
<circle cx="240.9" cy="485.5" r="2.3" fill="#001aff"/>
<circle cx="251.4" cy="478.6" r="2.3" fill="#001aff"/>
<circle cx="221.4" cy="485.5" r="2.3" fill="#001aff"/>
<circle cx="226.4" cy="484.1" r="2.3" fill="#001aff"/>
<circle cx="268.2" cy="480.9" r="2.3" fill="#001aff"/>
<circle cx="259.5" cy="474.1" r="2.3" fill="#001aff"/>
<circle cx="232.0" cy="480.5" r="2.3" fill="#001aff"/>
<circle cx="242.5" cy="479.0" r="2.3" fill="#001aff"/>
<circle cx="247.5" cy="475.0" r="2.3" fill="#001aff"/>
<line x1="213.89" y1="486.74" x2="333.22" y2="445.95" stroke="#000" stroke-width="1.8"/>
<path d="M370.70 365.30 V519.80 H508.50" fill="none" stroke="#c6c6c6" stroke-width="1.2"/>
<path d="M370.70 519.80 h1.8 M370.70 519.80 v-1.8 M370.70 488.90 h1.8 M398.26 519.80 v-1.8 M370.70 458.00 h1.8 M425.82 519.80 v-1.8 M370.70 427.10 h1.8 M453.38 519.80 v-1.8 M370.70 396.20 h1.8 M480.94 519.80 v-1.8 M370.70 365.30 h1.8 M508.50 519.80 v-1.8" stroke="#aaa" stroke-width="0.8"/>
<text class="tk" x="367.50" y="523.10" text-anchor="end">0</text>
<text class="tk" x="370.70" y="532.00" text-anchor="middle">0</text>
<text class="tk" x="367.50" y="492.20" text-anchor="end">10</text>
<text class="tk" x="398.26" y="532.00" text-anchor="middle">10</text>
<text class="tk" x="367.50" y="461.30" text-anchor="end">20</text>
<text class="tk" x="425.82" y="532.00" text-anchor="middle">20</text>
<text class="tk" x="367.50" y="430.40" text-anchor="end">30</text>
<text class="tk" x="453.38" y="532.00" text-anchor="middle">30</text>
<text class="tk" x="367.50" y="399.50" text-anchor="end">40</text>
<text class="tk" x="480.94" y="532.00" text-anchor="middle">40</text>
<text class="tk" x="367.50" y="368.60" text-anchor="end">50</text>
<text class="tk" x="508.50" y="532.00" text-anchor="middle">50</text>
<text class="lb" x="439.60" y="542.70" text-anchor="middle">OMI-BIRA</text>
<text class="lb" transform="translate(354.90 442.55) rotate(-90)" text-anchor="middle">OMI-NASA</text>
<text class="rn" x="426.60" y="384.70">R=0.64</text>
<text class="rn" x="426.60" y="400.30">N=76</text>
<line x1="378.09" y1="511.52" x2="437.67" y2="444.71" stroke="#c2c2c2" stroke-width="0.9"/>
<circle cx="378.2" cy="464.5" r="2.3" fill="#001aff"/>
<circle cx="383.3" cy="473.5" r="2.3" fill="#001aff"/>
<circle cx="421.4" cy="436.8" r="2.3" fill="#005eff"/>
<circle cx="421.8" cy="444.1" r="2.3" fill="#005eff"/>
<circle cx="423.2" cy="448.6" r="2.3" fill="#001aff"/>
<circle cx="420.0" cy="453.2" r="2.3" fill="#004dff"/>
<circle cx="417.3" cy="456.4" r="2.3" fill="#001aff"/>
<circle cx="419.5" cy="459.1" r="2.3" fill="#001aff"/>
<circle cx="424.1" cy="455.9" r="2.3" fill="#004dff"/>
<circle cx="424.1" cy="459.1" r="2.3" fill="#0091ff"/>
<circle cx="428.2" cy="459.1" r="2.3" fill="#001aff"/>
<circle cx="437.7" cy="458.2" r="2.3" fill="#004dff"/>
<circle cx="396.8" cy="451.8" r="2.3" fill="#001aff"/>
<circle cx="409.5" cy="457.7" r="2.3" fill="#003cff"/>
<circle cx="411.8" cy="457.3" r="2.3" fill="#001aff"/>
<circle cx="409.1" cy="461.8" r="2.3" fill="#001aff"/>
<circle cx="411.4" cy="463.6" r="2.3" fill="#001aff"/>
<circle cx="398.2" cy="465.9" r="2.3" fill="#001aff"/>
<circle cx="422.7" cy="464.1" r="2.3" fill="#001aff"/>
<circle cx="418.6" cy="466.8" r="2.3" fill="#001aff"/>
<circle cx="421.4" cy="469.5" r="2.3" fill="#001aff"/>
<circle cx="398.2" cy="465.8" r="2.3" fill="#001aff"/>
<circle cx="402.5" cy="464.7" r="2.3" fill="#0080ff"/>
<circle cx="404.7" cy="465.1" r="2.3" fill="#001aff"/>
<circle cx="409.1" cy="461.5" r="2.3" fill="#001aff"/>
<circle cx="410.5" cy="463.3" r="2.3" fill="#001aff"/>
<circle cx="408.4" cy="468.7" r="2.3" fill="#001aff"/>
<circle cx="410.5" cy="470.5" r="2.3" fill="#001aff"/>
<circle cx="418.2" cy="467.3" r="2.3" fill="#001aff"/>
<circle cx="394.5" cy="471.6" r="2.3" fill="#001aff"/>
<circle cx="397.5" cy="472.0" r="2.3" fill="#001aff"/>
<circle cx="402.5" cy="472.7" r="2.3" fill="#001aff"/>
<circle cx="405.5" cy="474.2" r="2.3" fill="#001aff"/>
<circle cx="409.5" cy="473.5" r="2.3" fill="#001aff"/>
<circle cx="412.0" cy="473.8" r="2.3" fill="#001aff"/>
<circle cx="390.2" cy="474.9" r="2.3" fill="#001aff"/>
<circle cx="389.8" cy="476.4" r="2.3" fill="#001aff"/>
<circle cx="393.1" cy="477.5" r="2.3" fill="#001aff"/>
<circle cx="396.0" cy="476.7" r="2.3" fill="#001aff"/>
<circle cx="398.9" cy="478.2" r="2.3" fill="#001aff"/>
<circle cx="401.8" cy="477.1" r="2.3" fill="#001aff"/>
<circle cx="404.0" cy="475.3" r="2.3" fill="#001aff"/>
<circle cx="407.6" cy="475.3" r="2.3" fill="#001aff"/>
<circle cx="412.7" cy="475.3" r="2.3" fill="#001aff"/>
<circle cx="416.4" cy="474.2" r="2.3" fill="#001aff"/>
<circle cx="393.1" cy="480.7" r="2.3" fill="#001aff"/>
<circle cx="395.6" cy="480.0" r="2.3" fill="#001aff"/>
<circle cx="398.2" cy="480.7" r="2.3" fill="#001aff"/>
<circle cx="402.5" cy="480.4" r="2.3" fill="#001aff"/>
<circle cx="405.5" cy="479.6" r="2.3" fill="#001aff"/>
<circle cx="388.7" cy="484.7" r="2.3" fill="#001aff"/>
<circle cx="391.6" cy="484.0" r="2.3" fill="#001aff"/>
<circle cx="395.3" cy="483.6" r="2.3" fill="#001aff"/>
<circle cx="398.9" cy="484.7" r="2.3" fill="#001aff"/>
<circle cx="404.0" cy="483.3" r="2.3" fill="#001aff"/>
<circle cx="394.2" cy="488.7" r="2.3" fill="#001aff"/>
<circle cx="397.5" cy="486.9" r="2.3" fill="#001aff"/>
<circle cx="401.1" cy="486.9" r="2.3" fill="#001aff"/>
<circle cx="405.5" cy="486.2" r="2.3" fill="#001aff"/>
<circle cx="401.8" cy="490.5" r="2.3" fill="#001aff"/>
<circle cx="401.1" cy="493.1" r="2.3" fill="#001aff"/>
<circle cx="411.6" cy="484.4" r="2.3" fill="#003cff"/>
<circle cx="407.7" cy="468.6" r="2.3" fill="#001aff"/>
<circle cx="403.2" cy="469.5" r="2.3" fill="#001aff"/>
<circle cx="416.0" cy="471.5" r="2.3" fill="#001aff"/>
<circle cx="419.5" cy="472.0" r="2.3" fill="#001aff"/>
<circle cx="414.0" cy="467.5" r="2.3" fill="#001aff"/>
<circle cx="392.0" cy="479.0" r="2.3" fill="#001aff"/>
<circle cx="400.0" cy="482.5" r="2.3" fill="#001aff"/>
<circle cx="396.5" cy="485.5" r="2.3" fill="#001aff"/>
<circle cx="403.5" cy="488.0" r="2.3" fill="#001aff"/>
<circle cx="406.5" cy="482.0" r="2.3" fill="#001aff"/>
<circle cx="399.5" cy="475.0" r="2.3" fill="#001aff"/>
<circle cx="415.5" cy="474.5" r="2.3" fill="#001aff"/>
<line x1="378.09" y1="489.30" x2="437.67" y2="468.81" stroke="#000" stroke-width="1.8"/>
<text class="let" x="39.40" y="401.80">c)</text>
<rect x="514.2" y="374.40" width="11.6" height="145.4" fill="url(#jet)"/>
<text class="cb" x="528.8" y="523.00">0</text>
<text class="cb" x="528.8" y="498.77">0.05</text>
<text class="cb" x="528.8" y="474.53">0.1</text>
<text class="cb" x="528.8" y="450.30">0.15</text>
<text class="cb" x="528.8" y="426.07">0.2</text>
<text class="cb" x="528.8" y="401.83">0.25</text>
<text class="cb" x="528.8" y="377.60">0.3</text>
<text class="cf" x="519.6" y="370.40" text-anchor="middle" letter-spacing="-0.2">[CF]</text>
</svg></body></html>
